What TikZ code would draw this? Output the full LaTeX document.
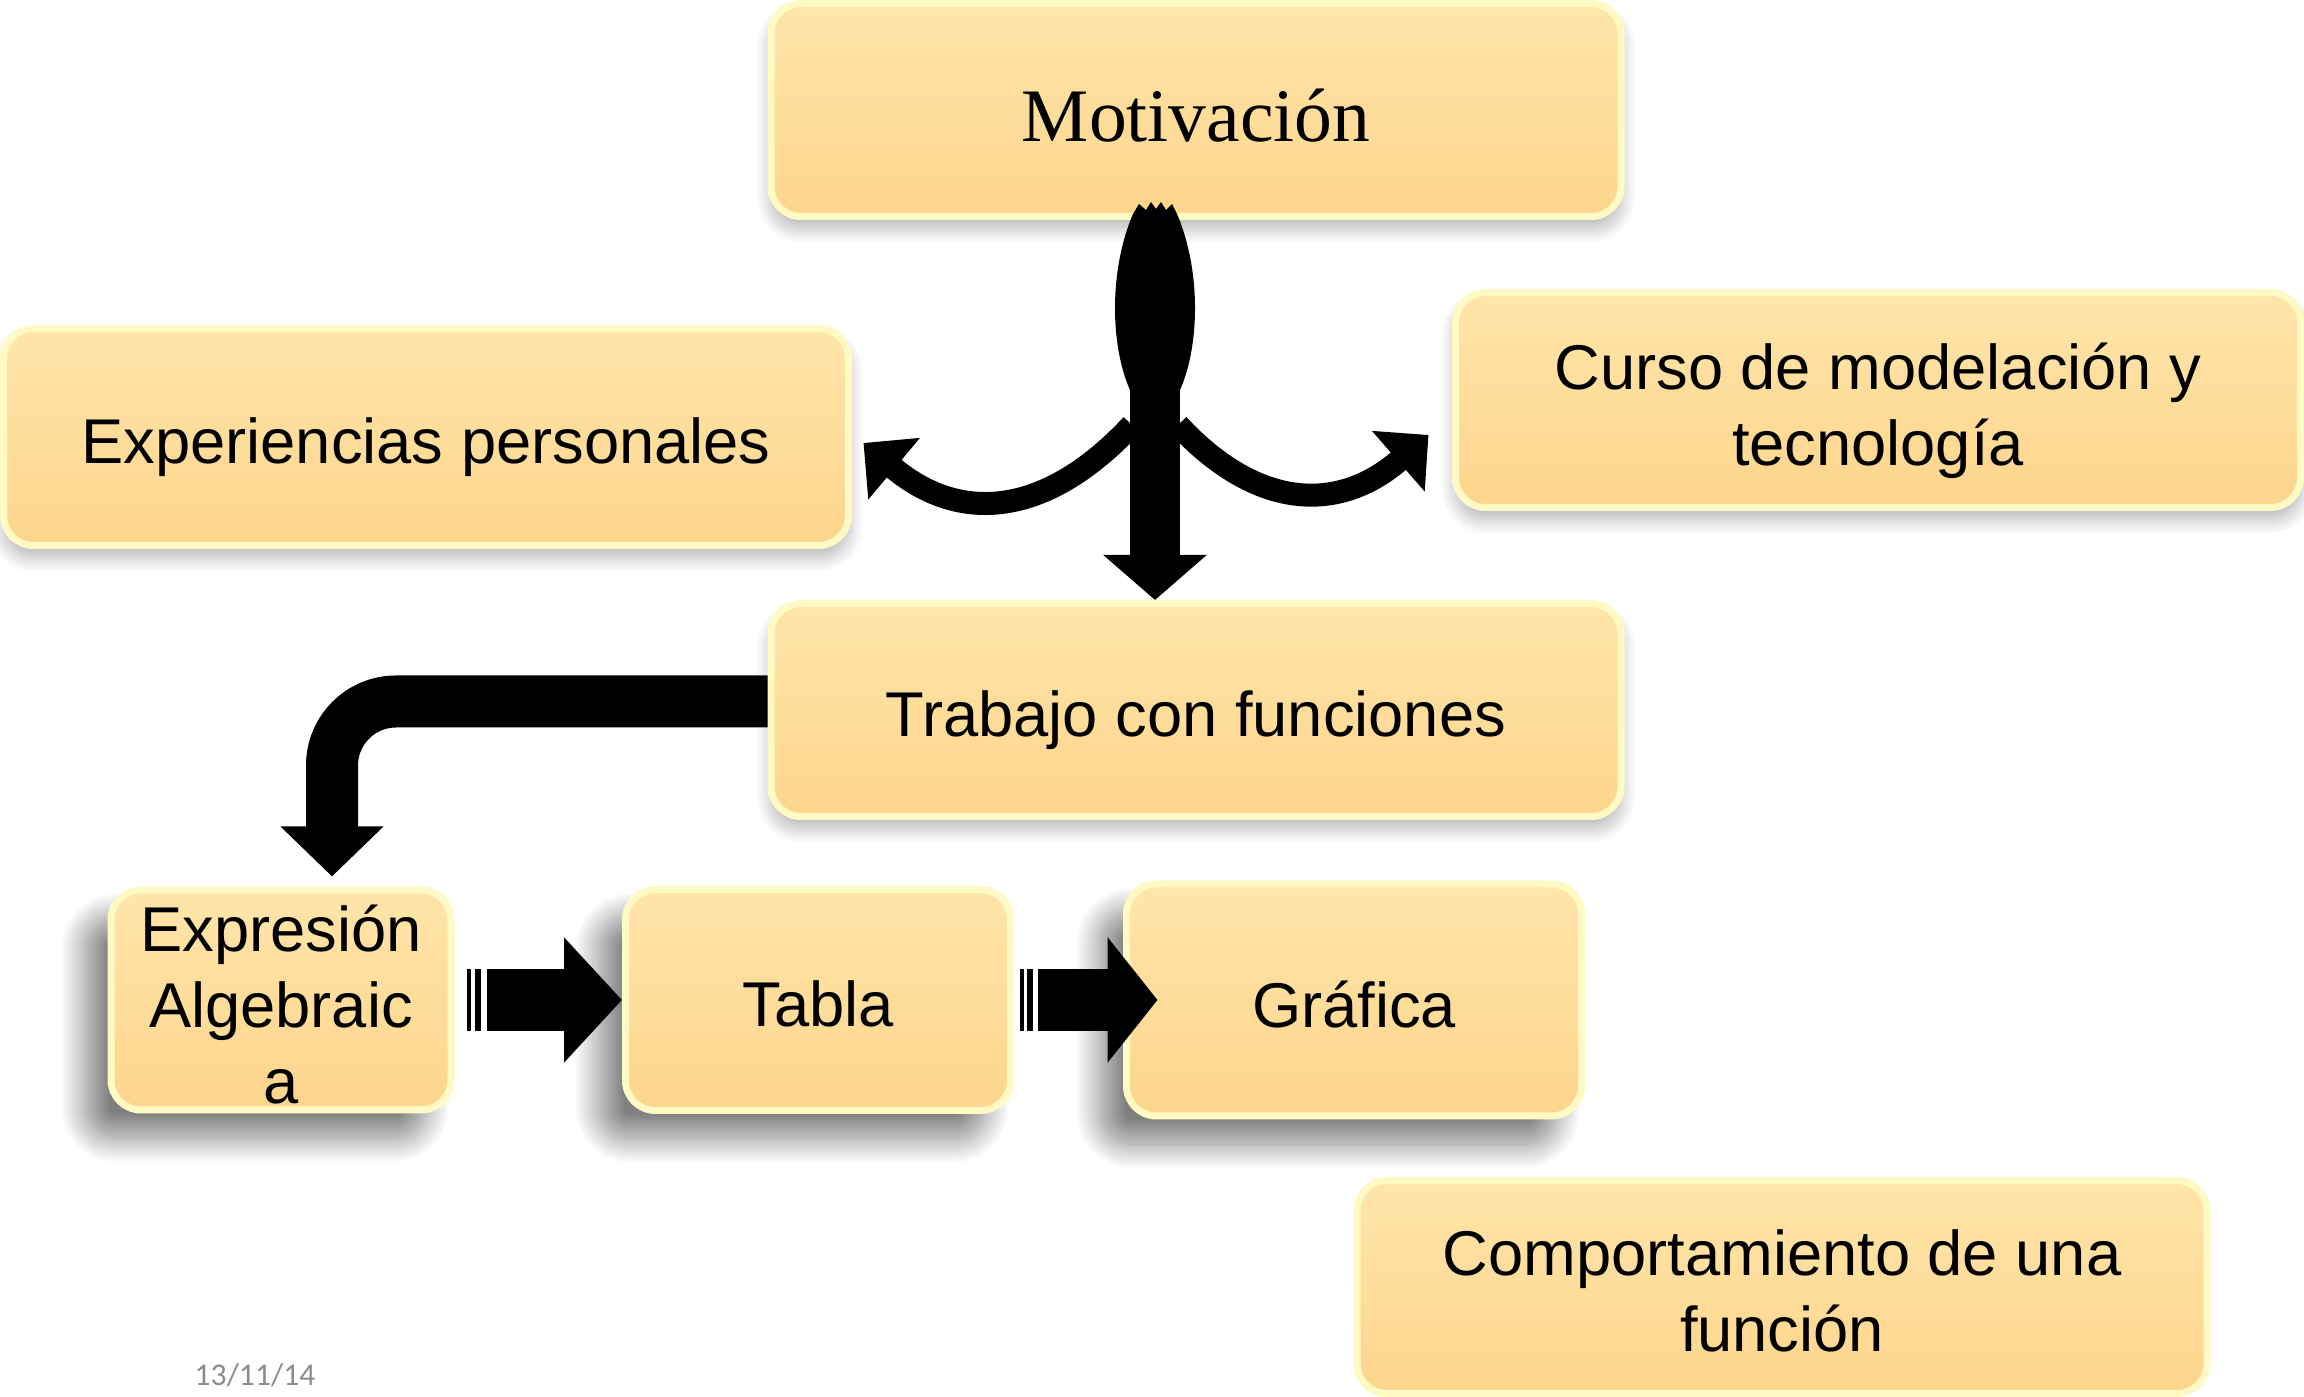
\documentclass[tikz,border=0pt]{standalone}
\usepackage{fontspec}
\setmainfont{Liberation Sans}
\newfontfamily\motfont{Liberation Serif}
\newfontfamily\datefont{Carlito}
\usetikzlibrary{arrows.meta}
\usetikzlibrary{positioning}
\usetikzlibrary{shadows.blur}

\definecolor{boxtop}{RGB}{255,229,170}
\definecolor{boxbot}{RGB}{253,213,140}
\definecolor{glow}{RGB}{255,249,196}
\definecolor{dategray}{RGB}{140,140,140}
\newcommand\lowerby[1]{\rule{0pt}{#1}}

\begin{document}
\begin{tikzpicture}[x=0.1mm,y=-0.1mm,on grid,
    box/.style={rectangle,rounded corners=3mm,draw=glow,line width=0.7mm,
        top color=boxtop,bottom color=boxbot,align=center,inner sep=0pt,
        font=\fontsize{18}{21.6}\selectfont},
    lowshadow/.style={blur shadow={shadow xshift=0mm,shadow yshift=-1.2mm,
        shadow blur radius=1.5mm,shadow blur steps=20,shadow opacity=30}},
    deepshadow/.style={blur shadow={shadow xshift=-2.6mm,shadow yshift=-2.8mm,
        shadow blur radius=2.5mm,shadow blur steps=30,shadow opacity=50}},
    block/.style={draw=black,line cap=butt}]
    \useasboundingbox (0,0) rectangle (2304,1397);
    \node[box,lowshadow,minimum width=85mm,minimum height=21.3mm] (motiv) at (1196,110)
        {\motfont\fontsize{21.5}{26}\selectfont\lowerby{18.4pt}Motivación};
    \node[box,lowshadow,minimum width=84.5mm,minimum height=21.7mm,
        below left=32.7mm and 77mm of motiv] (exper) {\lowerby{18.6pt}Experiencias personales};
    \node[box,lowshadow,minimum width=84.5mm,minimum height=21.5mm,
        below right=29mm and 68.2mm of motiv] (curso) {\lowerby{19.2pt}Curso de modelación y\\tecnología};
    \node[box,lowshadow,minimum width=85mm,minimum height=21.3mm,
        below=60mm of motiv] (trabajo) {\lowerby{18.6pt}Trabajo con funciones};
    \node[box,deepshadow,minimum width=34mm,minimum height=22mm,
        below left=29mm and 91.5mm of trabajo] (expr) {\lowerby{15.6pt}Expresión\\Algebraic\\a};
    \node[box,deepshadow,minimum width=38.5mm,minimum height=22.1mm,
        right=53.7mm of expr] (tabla) {\lowerby{15.2pt}Tabla};
    \node[box,deepshadow,minimum width=45.5mm,minimum height=23.2mm,
        right=53.6mm of tabla] (graf) {\lowerby{15.6pt}Gráfica};
    \node[box,minimum width=85mm,minimum height=21.3mm,
        below right=28.7mm and 42.8mm of graf] (comport) {\lowerby{15.5pt}Comportamiento de una\\función};
    \node[font=\datefont\fontsize{9}{11}\selectfont,text=dategray] (fecha) at (255,1375) {13/11/14};

    \fill (1133,214) -- (1139,204) -- (1146,210) -- (1151,202) -- (1156,209) -- (1161,202)
        -- (1166,210) -- (1172,204) -- (1177,214) .. controls (1201,270) and (1200,345) .. (1180,390)
        -- (1130,390) .. controls (1110,345) and (1109,270) .. (1133,214) -- cycle;
    \draw[block,line width=5mm,-{Triangle[length=4.5mm,width=10.1mm]}]
        ([xshift=-4.1mm]motiv.south) -- ([xshift=-4.1mm]trabajo.north);
    \coordinate (fork) at (1155,425);
    \draw[block,line width=2.3mm,-{Triangle[length=4mm,width=7.8mm]}]
        ([xshift=-2.3mm]fork) to[out=227,in=-40,looseness=1.2] ([xshift=1.15mm,yshift=-0.6mm]exper.east);
    \draw[block,line width=2.3mm,-{Triangle[length=4mm,width=7.8mm]}]
        ([xshift=2.3mm]fork) to[out=-47,in=221,looseness=1.2] ([xshift=-2.35mm,yshift=-3.5mm]curso.west);
    \draw[block,line width=5.2mm,rounded corners=6.4mm,-{Triangle[length=5mm,width=10mm]}]
        ([yshift=0.85mm]trabajo.west) -| ([xshift=5.1mm,yshift=1mm]expr.north);
    \draw[block,line width=6.2mm,dash pattern=on 0.4mm off 0.4mm on 0.6mm off 0.6mm on 30mm off 0mm,
        -{Triangle[length=5.8mm,width=12.2mm]}] ([xshift=1.2mm]expr.east) -- (tabla.west);
    \draw[block,line width=6.2mm,dash pattern=on 0.4mm off 0.3mm on 0.6mm off 0.5mm on 30mm off 0mm,
        -{Triangle[length=5mm,width=12.3mm]}] ([xshift=0.55mm]tabla.east) -- ([xshift=3.45mm]graf.west);
\end{tikzpicture}
\end{document}
